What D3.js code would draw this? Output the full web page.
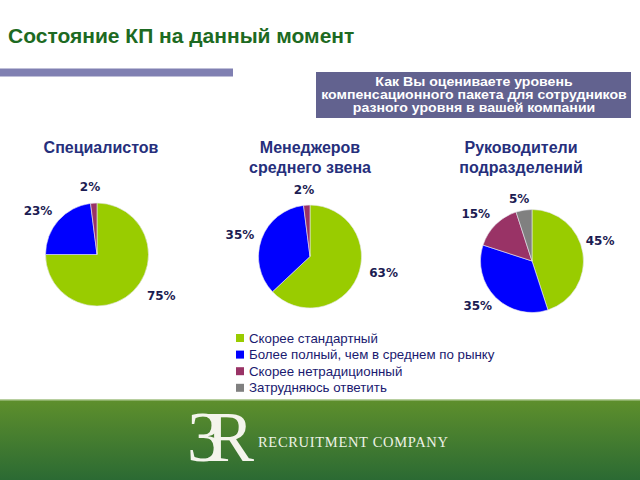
<!DOCTYPE html>
<html><head><meta charset="utf-8">
<script src="https://cdn.jsdelivr.net/npm/d3@7"></script>
<style>html,body{margin:0;padding:0;background:#fff;}svg{display:block;}</style>
</head><body>
<svg id="chart" width="640" height="480"></svg>
<script>
// ---- data ----
const categories = ["Скорее стандартный", "Более полный, чем в среднем по рынку", "Скорее нетрадиционный", "Затрудняюсь ответить"];
const groupTitles = [["Специалистов"], ["Менеджеров", "среднего звена"], ["Руководители", "подразделений"]];
const specialists = [75, 23, 2, 0];
const middleManagers = [63, 35, 2, 0];
const departmentHeads = [45, 35, 15, 5];
const seriesValues = [specialists, middleManagers, departmentHeads];
const mainTitle = "Состояние КП на данный момент";
const questionLines = ["Как Вы оцениваете уровень", "компенсационного пакета для сотрудников", "разного уровня в вашей компании"];

// ---- layout / style ----
const colors = ["#99cc00", "#0000ff", "#993366", "#808080"];
const centers = [[97, 254.5], [310, 256.5], [532, 261]];
const titleX = [101, 310, 521];
const R = 51.5;
const labelNudge = {
  "0-0": [5, -3], "0-1": [3, -2], "0-2": [-3, -4],
  "1-0": [1, -9], "1-1": [4, 0], "1-2": [-2, -3],
  "2-0": [-9, -10], "2-1": [5, 0], "2-2": [3, -2], "2-3": [-3, 1]
};

const svg = d3.select("#chart");
const defs = svg.append("defs");
const grad = defs.append("linearGradient").attr("id", "fg").attr("x1", 0).attr("y1", 0).attr("x2", 0).attr("y2", 1);
grad.append("stop").attr("offset", 0).attr("stop-color", "#5e8f2c");
grad.append("stop").attr("offset", 1).attr("stop-color", "#2b6a33");

// main title
svg.append("text").attr("x", 8).attr("y", 43).text(mainTitle)
  .attr("font-family", "Liberation Sans, Arial, sans-serif").attr("font-weight", "bold")
  .attr("font-size", 21).attr("fill", "#1d6a22");

// purple bar
svg.append("rect").attr("x", 0).attr("y", 68.5).attr("width", 233).attr("height", 8).attr("fill", "#8080b2");

// question box
svg.append("rect").attr("x", 316).attr("y", 72).attr("width", 315).attr("height", 46).attr("fill", "#62628f");
svg.append("g").attr("transform", "translate(474,0) scale(1.13,1)")
  .selectAll("text").data(questionLines).join("text")
  .attr("x", 0).attr("y", (d, i) => 86.5 + i * 13).attr("text-anchor", "middle")
  .attr("font-family", "Liberation Sans, Arial, sans-serif").attr("font-weight", "bold")
  .attr("font-size", 12.5).attr("fill", "#fff").text(d => d);

// pies
const pie = d3.pie().sort(null).value(d => d);
const arc = d3.arc().innerRadius(0).outerRadius(R);

seriesValues.forEach((vals, gi) => {
  const [cx, cy] = centers[gi];
  svg.append("g").selectAll("text").data(groupTitles[gi]).join("text")
    .attr("x", titleX[gi]).attr("y", (d, i) => 152.5 + i * 20).attr("text-anchor", "middle")
    .attr("font-family", "Liberation Sans, Arial, sans-serif").attr("font-weight", "bold")
    .attr("font-size", 16).attr("fill", "#262f7c").text(d => d);

  const g = svg.append("g").attr("transform", `translate(${cx},${cy})`);
  const arcs = pie(vals);
  g.selectAll("path").data(arcs.filter(a => a.value > 0)).join("path")
    .attr("d", arc).attr("fill", (d) => colors[d.index])
    .attr("stroke", "#e8e8f0").attr("stroke-width", 0.6);

  arcs.filter(a => a.value > 0).forEach(a => {
    const mid = (a.startAngle + a.endAngle) / 2;
    const rr = R + 12;
    const x = Math.sin(mid) * rr, y = -Math.cos(mid) * rr;
    const s = Math.sin(mid);
    const anchor = Math.abs(s) < 0.3 ? "middle" : (s > 0 ? "start" : "end");
    const nudge = labelNudge[gi + "-" + a.index] || [0, 0];
    g.append("text").attr("x", x + nudge[0]).attr("y", y + nudge[1])
      .attr("text-anchor", anchor).attr("dominant-baseline", "central")
      .attr("font-family", "DejaVu Sans, Verdana, sans-serif").attr("font-size", 12)
      .attr("font-weight", "bold").attr("fill", "#1c1c52").text(a.value + "%");
  });
});

// legend
const leg = svg.append("g").attr("transform", "translate(236,338)");
const li = leg.selectAll("g").data(categories).join("g").attr("transform", (d, i) => `translate(0,${i * 16.6})`);
li.append("rect").attr("x", 0).attr("y", -4).attr("width", 8).attr("height", 8).attr("fill", (d, i) => colors[i]);
li.append("text").attr("x", 13).attr("y", 0).attr("dominant-baseline", "central")
  .attr("font-family", "Liberation Sans, Arial, sans-serif").attr("font-size", 13.3)
  .attr("fill", "#1a1a70").text(d => d);

// footer
svg.append("rect").attr("x", 0).attr("y", 400).attr("width", 640).attr("height", 80).attr("fill", "url(#fg)");
svg.append("rect").attr("x", 0).attr("y", 399).attr("width", 640).attr("height", 1.5).attr("fill", "#b8cfa0");
svg.append("text").attr("x", 187).attr("y", 461).text("3R")
  .attr("font-family", "Liberation Serif, serif").attr("font-size", 72)
  .attr("letter-spacing", -17).attr("fill", "#f4f4ec");
svg.append("text").attr("x", 258).attr("y", 447).text("RECRUITMENT COMPANY")
  .attr("font-family", "Liberation Serif, serif").attr("font-size", 14.5)
  .attr("textLength", 190).attr("lengthAdjust", "spacing").attr("fill", "#eef2e6");
</script>
</body></html>
